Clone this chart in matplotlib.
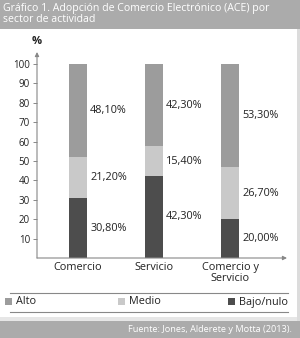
import matplotlib
matplotlib.use("Agg")
import matplotlib.pyplot as plt
from matplotlib.patches import Rectangle
from matplotlib.lines import Line2D

categories = ["Comercio", "Servicio", "Comercio y\nServicio"]
bajo = [30.8, 42.3, 20.0]
medio = [21.2, 15.4, 26.7]
alto = [48.1, 42.3, 53.3]
bajo_lbl = ["30,80%", "42,30%", "20,00%"]
medio_lbl = ["21,20%", "15,40%", "26,70%"]
alto_lbl = ["48,10%", "42,30%", "53,30%"]
yticks = [10, 20, 30, 40, 50, 60, 70, 80, 90, 100]
series_names = ["Alto", "Medio", "Bajo/nulo"]

c_alto = "#9c9c9c"
c_medio = "#c9c9c9"
c_bajo = "#4d4d4d"
band = "#ababab"
txt = "#222222"

plt.rcParams['font.family'] = ['Open Sans', 'DejaVu Sans']

W, H = 300, 338
fig = plt.figure(figsize=(W / 100, H / 100), dpi=100)
fig.patch.set_facecolor("white")

def px(x0, y0, w, h):
    return [x0 / W, 1 - (y0 + h) / H, w / W, h / H]

# background bands
bg = fig.add_axes([0, 0, 1, 1], zorder=-5)
bg.set_xlim(0, W); bg.set_ylim(H, 0); bg.axis("off")
bg.add_patch(Rectangle((0, 0), W, 29, color=band, lw=0))
bg.add_patch(Rectangle((0, 321), W, H - 321, color=band, lw=0))
bg.add_patch(Rectangle((297, 29), 3, 292, color="#dcdcdc", lw=0))
bg.add_patch(Rectangle((0, 317), 297, 4, color="#e6e6e6", lw=0))
bg.text(3, 8.5, "Gráfico 1. Adopción de Comercio Electrónico (ACE) por",
        color="white", fontsize=7.6, va="center", ha="left")
bg.text(3, 20, "sector de actividad", color="white", fontsize=7.6,
        va="center", ha="left")
bg.text(292, 330, "Fuente: Jones, Alderete y Motta (2013).", color="white",
        fontsize=6.6, va="center", ha="right")
# legend lines
bg.add_line(Line2D([10, 288], [293, 293], color="#888888", lw=0.8))
bg.add_line(Line2D([10, 288], [312, 312], color="#888888", lw=0.8))
# legend
leg = [(5, "Alto", c_alto), (118, "Medio", c_medio), (228, "Bajo/nulo", c_bajo)]
for (x, name, col), nm in zip(leg, series_names):
    bg.add_patch(Rectangle((x, 298), 7, 7, color=col, lw=0))
    bg.text(x + 11, 302, nm, fontsize=7.8, color=txt, va="center", ha="left")
bg.text(37, 42, "%", fontsize=8, color=txt, ha="center", va="center",
        fontweight="bold")

# main axes: x from 37 to 287 px, y 0 at 258 px, top 52 px
ax = fig.add_axes(px(37, 52, 250, 206))
ax.set_xlim(-0.54, 2.75)
ax.set_ylim(0, 106.2)
ax.set_facecolor("none")
for s in ax.spines.values():
    s.set_visible(False)

x = list(range(len(categories)))
bw = 0.237
ax.bar(x, bajo, bw, color=c_bajo, lw=0)
bot2 = [b for b in bajo]
ax.bar(x, medio, bw, bottom=bot2, color=c_medio, lw=0)
bot3 = [b + m for b, m in zip(bajo, medio)]
ax.bar(x, alto, bw, bottom=bot3, color=c_alto, lw=0)

for i in x:
    lx = i + 0.16
    ax.text(lx, bajo[i] / 2, bajo_lbl[i], fontsize=7.8, color=txt, va="center", ha="left")
    ax.text(lx, bajo[i] + medio[i] / 2, medio_lbl[i], fontsize=7.8, color=txt, va="center", ha="left")
    ax.text(lx, bot3[i] + alto[i] / 2, alto_lbl[i], fontsize=7.8, color=txt, va="center", ha="left")

ax.set_yticks(yticks)
ax.set_yticklabels([str(t) for t in yticks], fontsize=7, color=txt)
ax.tick_params(axis="y", length=3, width=0.7, color="#888888", pad=2)
ax.set_xticks(x)
ax.set_xticklabels(categories, fontsize=7.8, color=txt, linespacing=0.95)
ax.tick_params(axis="x", length=0, pad=3)

# axis arrows
ax.annotate("", xy=(0, 1), xytext=(0, 0), xycoords="axes fraction",
            arrowprops=dict(arrowstyle="-|>", color="#888888", lw=0.8,
                            mutation_scale=6, shrinkA=0, shrinkB=0))
ax.annotate("", xy=(1, 0), xytext=(0, 0), xycoords="axes fraction",
            arrowprops=dict(arrowstyle="-|>", color="#888888", lw=0.8,
                            mutation_scale=6, shrinkA=0, shrinkB=0))

fig.savefig("out.png", dpi=100)
